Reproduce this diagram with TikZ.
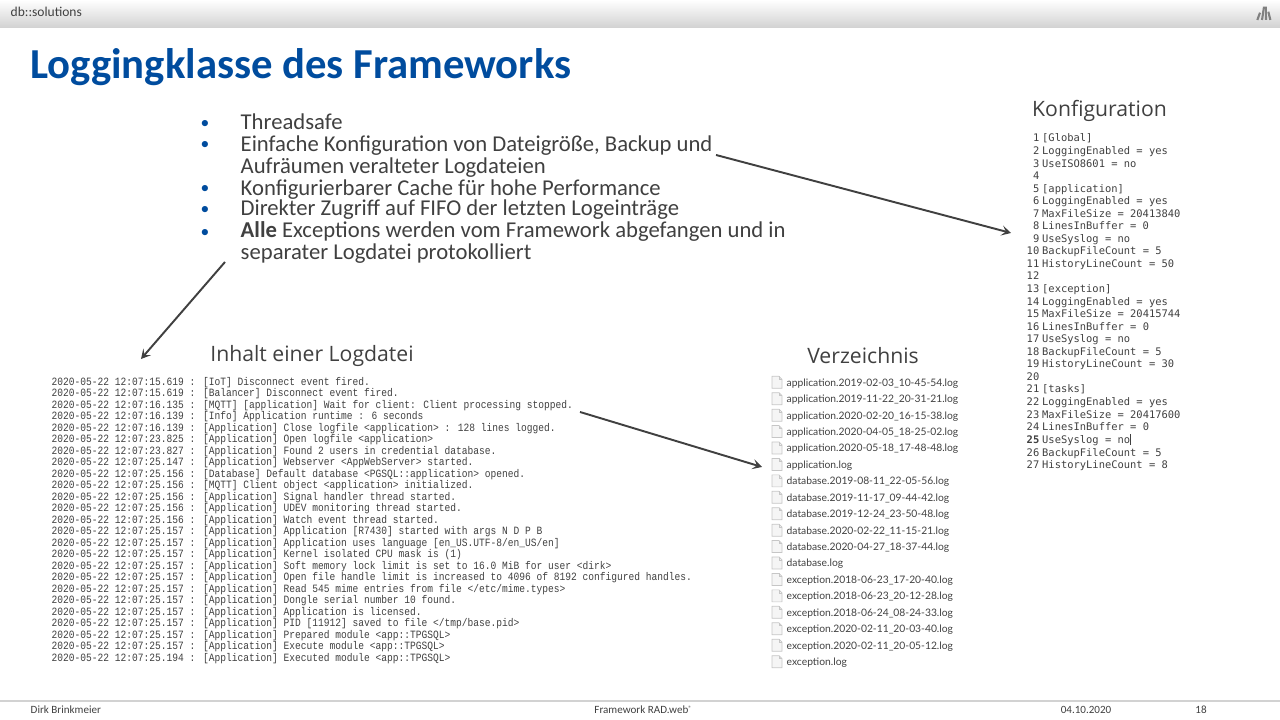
\documentclass[tikz,border=0pt]{standalone}
\usepackage{fontspec}
\usepackage{xcolor}
\usetikzlibrary{arrows.meta}
\setmainfont{Carlito}
\newfontfamily\logfont[FakeStretch=0.86]{Liberation Mono}
\newfontfamily\cfgfont{DejaVu Sans Mono}
\newfontfamily\dirfont{Lato}
\newfontfamily\headfont{Open Sans}
\definecolor{titleblue}{HTML}{004C9E}
\definecolor{bodygray}{HTML}{404040}
\definecolor{arrowgray}{HTML}{404040}
\newcommand{\logfile}[3]{%
    \pic at (7.72,#2) {fileicon};
    \node [filename] (#1) at (7.86,#2-.01) {#3};}
\tikzset{
    heading/.style={inner sep=0pt,text=bodygray,font=\headfont\fontsize{6.03pt}{7pt}\selectfont},
    footer/.style={inner sep=0pt,anchor=base,text=bodygray,font=\fontsize{3.15pt}{4pt}\selectfont},
    bullet/.style={inner sep=0pt,text=titleblue,font=\fontsize{5pt}{5pt}\selectfont},
    item/.style={inner sep=0pt,anchor=base west,text=bodygray,font=\fontsize{6.45pt}{6.45pt}\selectfont},
    filename/.style={inner sep=0pt,anchor=west,text=bodygray,font=\dirfont\fontsize{2.93pt}{4pt}\selectfont},
    pointer/.style={-{Stealth[length=2.7pt,width=2.9pt,inset=1.2pt]},arrowgray,line width=0.55pt},
    pics/fileicon/.style={code={
        \draw [gray!45,fill=gray!8,line width=0.2pt] (0,-.06) -- (0,.06) -- (.07,.06) -- (.10,.03) -- (.10,-.06) -- cycle;
        \draw [gray!45,line width=0.2pt] (.07,.06) -- (.07,.03) -- (.10,.03);
    }}
}
\begin{document}
\begin{tikzpicture}
    \useasboundingbox (0,0) rectangle (12.8,7.2);
    % header and footer
    \shade [top color=white,bottom color=gray!35] (0,6.925) rectangle (12.8,7.2);
    \node [inner sep=0pt,anchor=west,text=bodygray,font=\fontsize{3.85pt}{4pt}\selectfont] (brand) at (.1,7.08) {db::solutions};
    \begin{scope}[gray,line width=.6pt]
    \draw (12.573,7.0) -- (12.6,7.073);
    \draw (12.62,7.0) -- (12.64,7.133);
    \draw (12.66,7.0) -- (12.657,7.133);
    \draw (12.703,7.0) -- (12.683,7.083);
    \end{scope}
    \draw [gray!35,line width=.35pt] (0,.19) -- (12.8,.19);
    \node [footer,anchor=base west] (author) at (.3,.06) {Dirk Brinkmeier};
    \node [footer] (product) at (6.43,.06) {Framework RAD.web\raisebox{.9pt}{\fontsize{1.8pt}{2pt}\selectfont\textregistered}};
    \node [footer] (date) at (10.86,.06) {04.10.2020};
    \node [footer] (pagenr) at (12.01,.06) {18};

    \node [inner sep=0pt,anchor=base west,text=titleblue,font=\fontsize{12.15pt}{14pt}\selectfont\bfseries] (title) at (.295,6.41) {Loggingklasse des Frameworks};

    % bullet list
    \node [bullet] (b1) at (2.05,5.95) {\textbullet};
    \node [item] (i1) at (2.4,5.905) {Threadsafe};
    \node [bullet] (b2) at (2.05,5.74) {\textbullet};
    \node [item] (i2) at (2.4,5.68) {Einfache Konfiguration von Dateigröße, Backup und};
    \node [item] (i3) at (2.4,5.46) {Aufräumen veralteter Logdateien};
    \node [bullet] (b3) at (2.05,5.30) {\textbullet};
    \node [item] (i4) at (2.4,5.24) {Konfigurierbarer Cache für hohe Performance};
    \node [bullet] (b4) at (2.05,5.10) {\textbullet};
    \node [item] (i5) at (2.4,5.04) {Direkter Zugriff auf FIFO der letzten Logeinträge};
    \node [bullet] (b5) at (2.05,4.87) {\textbullet};
    \node [item] (i6) at (2.4,4.82) {\textbf{Alle} Exceptions werden vom Framework abgefangen und in};
    \node [item] (i7) at (2.4,4.60) {separater Logdatei protokolliert};

    % the three panels
    \node [heading] (logtitle) at (3.12,3.64) {Inhalt einer Logdatei};
    \node [heading] (dirtitle) at (8.63,3.64) {Verzeichnis};
    \node [heading] (cfgtitle) at (10.995,6.09) {Konfiguration};

    \node [inner sep=0pt,anchor=north west,align=left,text=bodygray,font=\logfont\fontsize{3.17pt}{3.27pt}\selectfont] (logtext) at (.51,3.435) {%
        2020-05-22 12:07:15.619 : [IoT] Disconnect event fired.\\
        2020-05-22 12:07:15.619 : [Balancer] Disconnect event fired.\\
        2020-05-22 12:07:16.135 : [MQTT] [application] Wait for client: Client processing stopped.\\
        2020-05-22 12:07:16.139 : [Info] Application runtime : 6 seconds\\
        2020-05-22 12:07:16.139 : [Application] Close logfile <application> : 128 lines logged.\\
        2020-05-22 12:07:23.825 : [Application] Open logfile <application>\\
        2020-05-22 12:07:23.827 : [Application] Found 2 users in credential database.\\
        2020-05-22 12:07:25.147 : [Application] Webserver <AppWebServer> started.\\
        2020-05-22 12:07:25.156 : [Database] Default database <PGSQL::application> opened.\\
        2020-05-22 12:07:25.156 : [MQTT] Client object <application> initialized.\\
        2020-05-22 12:07:25.156 : [Application] Signal handler thread started.\\
        2020-05-22 12:07:25.156 : [Application] UDEV monitoring thread started.\\
        2020-05-22 12:07:25.156 : [Application] Watch event thread started.\\
        2020-05-22 12:07:25.157 : [Application] Application [R7430] started with args N D P B\\
        2020-05-22 12:07:25.157 : [Application] Application uses language [en\_US.UTF-8/en\_US/en]\\
        2020-05-22 12:07:25.157 : [Application] Kernel isolated CPU mask is (1)\\
        2020-05-22 12:07:25.157 : [Application] Soft memory lock limit is set to 16.0 MiB for user <dirk>\\
        2020-05-22 12:07:25.157 : [Application] Open file handle limit is increased to 4096 of 8192 configured handles.\\
        2020-05-22 12:07:25.157 : [Application] Read 545 mime entries from file </etc/mime.types>\\
        2020-05-22 12:07:25.157 : [Application] Dongle serial number 10 found.\\
        2020-05-22 12:07:25.157 : [Application] Application is licensed.\\
        2020-05-22 12:07:25.157 : [Application] PID [11912] saved to file </tmp/base.pid>\\
        2020-05-22 12:07:25.157 : [Application] Prepared module <app::TPGSQL>\\
        2020-05-22 12:07:25.157 : [Application] Execute module <app::TPGSQL>\\
        2020-05-22 12:07:25.194 : [Application] Executed module <app::TPGSQL>};

    \logfile{f1}{3.377}{application.2019-02-03\_10-45-54.log}
    \logfile{f2}{3.213}{application.2019-11-22\_20-31-21.log}
    \logfile{f3}{3.048}{application.2020-02-20\_16-15-38.log}
    \logfile{f4}{2.884}{application.2020-04-05\_18-25-02.log}
    \logfile{f5}{2.720}{application.2020-05-18\_17-48-48.log}
    \logfile{f6}{2.555}{application.log}
    \logfile{f7}{2.391}{database.2019-08-11\_22-05-56.log}
    \logfile{f8}{2.227}{database.2019-11-17\_09-44-42.log}
    \logfile{f9}{2.063}{database.2019-12-24\_23-50-48.log}
    \logfile{f10}{1.898}{database.2020-02-22\_11-15-21.log}
    \logfile{f11}{1.734}{database.2020-04-27\_18-37-44.log}
    \logfile{f12}{1.570}{database.log}
    \logfile{f13}{1.405}{exception.2018-06-23\_17-20-40.log}
    \logfile{f14}{1.241}{exception.2018-06-23\_20-12-28.log}
    \logfile{f15}{1.077}{exception.2018-06-24\_08-24-33.log}
    \logfile{f16}{.912}{exception.2020-02-11\_20-03-40.log}
    \logfile{f17}{.748}{exception.2020-02-11\_20-05-12.log}
    \logfile{f18}{.583}{exception.log}

    \node [inner sep=0pt,anchor=north west,text=bodygray,font=\cfgfont\fontsize{2.97pt}{3.57pt}\selectfont] (cfgtext) at (10.26,5.875) {%
        \renewcommand{\arraystretch}{1}\setlength{\tabcolsep}{0pt}%
        \begin{tabular}{@{}r@{\hspace{.83pt}}l@{}}
        1 & [Global]\\
        2 & LoggingEnabled = yes\\
        3 & UseISO8601 = no\\
        4 & \\
        5 & [application]\\
        6 & LoggingEnabled = yes\\
        7 & MaxFileSize = 20413840\\
        8 & LinesInBuffer = 0\\
        9 & UseSyslog = no\\
        10 & BackupFileCount = 5\\
        11 & HistoryLineCount = 50\\
        12 & \\
        13 & [exception]\\
        14 & LoggingEnabled = yes\\
        15 & MaxFileSize = 20415744\\
        16 & LinesInBuffer = 0\\
        17 & UseSyslog = no\\
        18 & BackupFileCount = 5\\
        19 & HistoryLineCount = 30\\
        20 & \\
        21 & [tasks]\\
        22 & LoggingEnabled = yes\\
        23 & MaxFileSize = 20417600\\
        24 & LinesInBuffer = 0\\
        \textbf{25} & UseSyslog = no\rule[-.3pt]{.1pt}{2.9pt}\\
        26 & BackupFileCount = 5\\
        27 & HistoryLineCount = 8
        \end{tabular}};

    % pointers between the panels
    \coordinate (cfgstart) at (7.16,5.65);
    \coordinate (cfgend) at (10.11,4.87);
    \coordinate (logstart) at (2.25,4.58);
    \coordinate (logend) at (1.41,3.61);
    \coordinate (dirstart) at (5.80,3.08);
    \coordinate (dirend) at (7.62,2.53);
    \draw [pointer] (cfgstart) -- (cfgend);
    \draw [pointer] (logstart) -- (logend);
    \draw [pointer] (dirstart) -- (dirend);
\end{tikzpicture}
\end{document}
